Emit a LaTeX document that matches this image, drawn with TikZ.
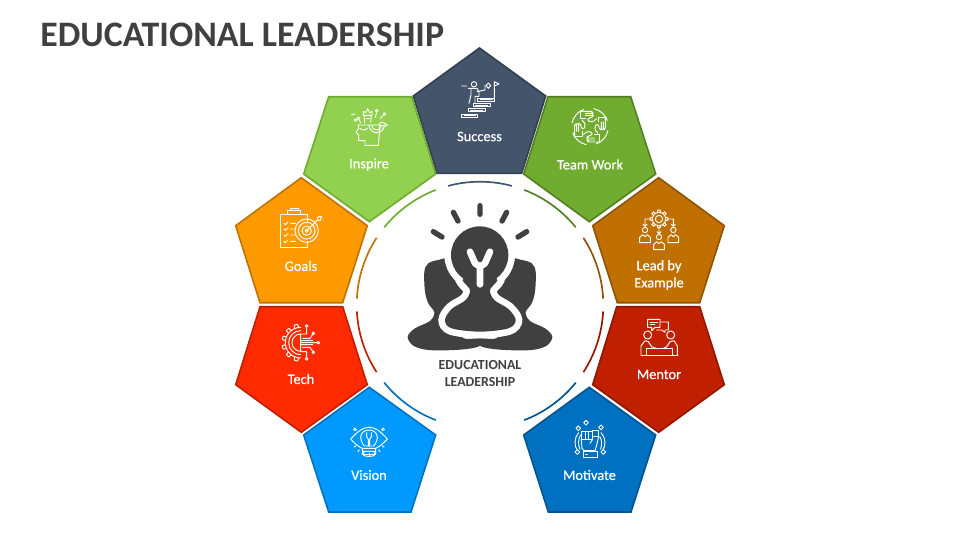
\documentclass[tikz,border=0pt]{standalone}
\usepackage{fontspec}
\setmainfont{Carlito}
\newfontfamily\lblfont[FakeBold=0.6]{Carlito}
\definecolor{inkdark}{HTML}{404040}
\definecolor{cSuccess}{HTML}{44546A}\definecolor{bSuccess}{HTML}{333F50}
\definecolor{cInspire}{HTML}{92D050}\definecolor{bInspire}{HTML}{6FAC2F}
\definecolor{cGoals}{HTML}{FF9900}\definecolor{bGoals}{HTML}{BF7300}
\definecolor{cTech}{HTML}{FF2A00}\definecolor{bTech}{HTML}{BF2000}
\definecolor{cVision}{HTML}{0099FF}\definecolor{bVision}{HTML}{0072BF}
\definecolor{cMotivate}{HTML}{0070C0}\definecolor{bMotivate}{HTML}{005490}
\definecolor{cMentor}{HTML}{C02000}\definecolor{bMentor}{HTML}{901800}
\definecolor{cLead}{HTML}{BF7000}\definecolor{bLead}{HTML}{8F5400}
\definecolor{cTeam}{HTML}{6FAC2F}\definecolor{bTeam}{HTML}{537F23}
\tikzset{
  pent/.style n args={2}{fill=#1,draw=#2,line width=1.2pt,line join=miter},
  ringarc/.style={line width=1.25pt,line cap=butt},
  lbl/.style={text=white,font=\lblfont\fontsize{10.8}{12.9}\selectfont,align=center,inner sep=0pt},
  hublbl/.style={text=inkdark,font=\fontsize{10.4}{12.9}\selectfont\bfseries,align=center,inner sep=0pt},
  iconline/.style={draw=white,line width=.7pt,line cap=round,line join=round,fill=none},
  zoomunits/.style={x=.25pt,y=-.25pt},
  ray/.style={draw=inkdark,line width=4pt,line cap=round},
}
\begin{document}
\begin{tikzpicture}[x=.75pt,y=-.75pt]
\useasboundingbox (0,0) rectangle (960,540);
\node[anchor=west,inner sep=0pt,text=inkdark,font=\fontsize{26.9}{30}\selectfont\bfseries] (title) at (40,34.5) {EDUCATIONAL LEADERSHIP};
% pentagons
\draw[pent={cSuccess}{bSuccess}] (479.5,48)--(545.7,96)--(521.7,173.3)--(437,173.3)--(413.3,96)--cycle;
\draw[pent={cInspire}{bInspire}] (328.7,96.7)--(411.7,96.7)--(435.7,174)--(369.3,221.7)--(303.7,174)--cycle;
\draw[pent={cTeam}{bTeam}] (548,96.7)--(630.7,96.7)--(655.7,174)--(589.3,221.7)--(523.7,174)--cycle;
\draw[pent={cGoals}{bGoals}] (301.3,177.7)--(367.3,225.7)--(342.7,302.7)--(260,302.7)--(235.7,225.7)--cycle;
\draw[pent={cLead}{bLead}] (658.7,177.7)--(724.3,225.7)--(699.7,302.7)--(617.3,302.7)--(592.7,225.7)--cycle;
\draw[pent={cTech}{bTech}] (260,306.7)--(342.7,306.7)--(367.3,384.7)--(301.3,432.3)--(235.7,384.7)--cycle;
\draw[pent={cMentor}{bMentor}] (616.7,306.7)--(699.7,306.7)--(724.3,384.7)--(658.7,432.3)--(592.7,384.7)--cycle;
\draw[pent={cVision}{bVision}] (369.3,387.3)--(435.7,435)--(411,512)--(328.7,512)--(303.7,435)--cycle;
\draw[pent={cMotivate}{bMotivate}] (589.3,387.3)--(655.7,435)--(631,512)--(548.3,512)--(523.7,435)--cycle;
% ring arcs
\begin{scope}[shift={(480,305)},y=.75pt,ringarc]
\foreach \mid/\col in {90/cSuccess,126/bInspire,162/bGoals,198/bTech,234/bVision,306/bMotivate,342/bMentor,18/bLead,54/bTeam}{
  \draw[\col] ({\mid-15}:123.3) arc[start angle=\mid-15,end angle=\mid+15,radius=123.3];
}
\end{scope}
% labels
\node[lbl] (success) at (479.5,136.5) {Success};
\node[lbl] (inspire) at (369,164.5) {Inspire};
\node[lbl] (team) at (590,164.5) {Team Work};
\node[lbl] (goals) at (301,266) {Goals};
\node[lbl] (lead) at (659,275) {Lead by\\Example};
\node[lbl] (tech) at (301,379) {Tech};
\node[lbl] (mentor) at (659,374.5) {Mentor};
\node[lbl] (vision) at (369,475) {Vision};
\node[lbl] (motivate) at (589.5,475) {Motivate};
\node[hublbl] (hub) at (480,373.3) {EDUCATIONAL\\LEADERSHIP};
% central figure
\begin{scope}[shift={(395,195)},zoomunits]
\foreach \flip/\sx in {0/1,510/-1}{
\begin{scope}[shift={(\flip,0)},xscale=\sx]
\fill[inkdark] plot[smooth cycle,tension=.55] coordinates {(38,425)(60,400)(105,378)(118,352)(100,325)(90,290)(88,230)(100,205)(130,195)(165,195)(200,270)(205,340)(200,425)(258,430)(264,445)(240,458)(180,465)(100,465)(55,452)};
\end{scope}}
\path[draw=white,line width=10pt] (254,180) circle[radius=86];
\path[draw=white,line width=10pt] plot[smooth cycle,tension=.55] coordinates {(205,250)(225,285)(212,315)(170,342)(150,375)(170,400)(255,410)(340,400)(362,375)(340,342)(298,315)(285,285)(305,250)};
\fill[inkdark] (254,180) circle[radius=86];
\fill[inkdark] plot[smooth cycle,tension=.55] coordinates {(205,250)(225,285)(212,315)(170,342)(150,375)(170,400)(255,410)(340,400)(362,375)(340,342)(298,315)(285,285)(305,250)};
\draw[white,line width=5pt,line cap=round,line join=round] (225,170)--(240,205)--(255,215)--(270,205)--(285,170) (255,215)--(255,268);
\draw[ray] (255,32)--(255,58) (175,52)--(189,78) (335,52)--(321,78) (115,110)--(141,126) (395,110)--(369,126);
\end{scope}
% icon: success
\begin{scope}[shift={(455,75)},zoomunits,iconline]
\draw (57,28) circle[radius=8];
\draw (20,33)--(35,33) (40,40)--(66,40)--(72,50)--(72,64)--(60,64)--(60,85) (48,40)--(48,60)--(42,85) (66,50)--(90,45)--(90,30);
\draw (68,70) rectangle (118,80) (55,85) rectangle (105,95) (40,100) rectangle (90,110) (20,117) rectangle (68,128);
\draw (75,74)--(112,74) (62,90)--(98,90) (47,105)--(84,105) (27,122)--(62,122);
\draw (118,70)--(118,20)--(132,27)--(118,33);
\draw (100,24)--(107,32)--(100,40)--(93,32)--cycle;
\end{scope}
% icon: inspire (zoom 1 offset)
\begin{scope}[shift={(230,40)},zoomunits,iconline]
\draw (384,255)--(450,255)--(445,316)--(405,316)--(405,302)--(386,302)--(386,284)--(378,278)--(386,264)--cycle;
\draw (390,265) .. controls (397,272) and (405,272) .. (412,265);
\draw (425,255) arc[start angle=180,end angle=0,radius=15] (417,255) arc[start angle=180,end angle=0,radius=23];
\draw (404,248)--(402,226)--(424,226)--(422,246) (400,226)--(400,214)--(407,218)--(413,206)--(419,218)--(426,214)--(426,226) (408,236)--(418,236);
\draw (448,256) .. controls (448,246) and (458,244) .. (464,250) .. controls (472,250) and (474,258) .. (468,258)--cycle;
\draw (385,235) circle[radius=4.5] (376,240) circle[radius=3.5] (440,212) circle[radius=4] (463,222) circle[radius=4];
\draw (365,224)--(375,222) (440,216)--(436,232) (460,226)--(450,236) (387,240)--(392,248);
\end{scope}
% icon: team
\begin{scope}[shift={(480,40)},zoomunits,iconline]
\begin{scope}[shift={(330,260)}]
\foreach \a in {0,90,180,270}{
\begin{scope}[rotate=\a]
\draw[rounded corners=1pt] (-28,-46)--(8,-46)--(8,-40)--(-14,-40) (8,-40)--(10,-34)--(-14,-34) (10,-34)--(6,-27)--(-4,-27)--(-8,-18)--(8,-14)--(20,-24);
\draw (-28,-48)--(-28,-24)--(-14,-24);
\draw (-78:55) arc[start angle=-78,end angle=-20,radius=55];
\end{scope}}
\end{scope}
\end{scope}
% icon: goals
\begin{scope}[shift={(230,40)},zoomunits,iconline]
\draw (205,622)--(152,622)--(152,522)--(233,522)--(233,545) (233,605)--(233,622)--(205,622);
\draw (172,522)--(172,512)--(212,512)--(212,522)--cycle (180,512)--(180,506)--(205,506)--(205,512);
\draw (230,572) circle[radius=35] (230,572) circle[radius=25] (230,572) circle[radius=14] (230,572) circle[radius=5];
\draw (230,572)--(262,540) (262,540)--(265,530)--(275,530)--(270,542)--cycle;
\foreach \y in {550,567,585,604}{\draw (162,\y)--(166,\y+4)--(174,\y-4) (182,\y)--(197,\y);}
\end{scope}
% icon: lead
\begin{scope}[shift={(635,205)},zoomunits,iconline]
\draw (72,42) circle[radius=11] (72,42) circle[radius=20];
\foreach \a in {0,45,...,315}{\draw[shift={(72,42)}] ({\a-12}:20)--({\a-8}:27)--({\a+8}:27)--({\a+12}:20);}
\draw (46,42)--(30,42)--(30,64) (24,58)--(30,64)--(36,58) (98,42)--(115,42)--(115,64) (109,58)--(115,64)--(121,58) (72,66)--(72,86) (66,80)--(72,86)--(78,80);
\foreach \x/\y in {30/75,115/75,72/96}{
\draw (\x,\y) circle[radius=8];
\draw (\x-16,\y+38)--(\x-16,\y+22)--(\x-7,\y+14)--(\x,\y+20)--(\x+7,\y+14)--(\x+16,\y+22)--(\x+16,\y+38)--cycle;
}
\end{scope}
% icon: tech (zoom 3 offset)
\begin{scope}[shift={(230,300)},zoomunits,iconline]
\begin{scope}[shift={(212,128)}]
\draw (90:46) arc[start angle=90,end angle=270,radius=46];
\draw (90:36) arc[start angle=90,end angle=270,radius=36];
\draw (90:26) arc[start angle=90,end angle=270,radius=26];
\foreach \a in {105,135,165,195,225,255}{\draw ({\a-8}:46)--({\a-5}:56)--({\a+5}:56)--({\a+8}:46);}
\end{scope}
\draw (212,102)--(212,155) (218,115)--(240,115)--(250,100) (212,122)--(248,122) (212,128)--(262,128) (212,134)--(248,134) (218,142)--(240,142)--(250,157) (214,102)--(230,102)--(230,82) (214,155)--(230,155)--(230,174);
\draw (230,78) circle[radius=4] (250,100) circle[radius=4] (265,128) circle[radius=4] (250,157) circle[radius=4] (230,177) circle[radius=4];
\end{scope}
% icon: mentor (zoom 4 offset)
\begin{scope}[shift={(480,300)},zoomunits,iconline]
\draw (503,58)--(540,58)--(540,82)--(525,82)--(515,92)--(515,82)--(503,82)--cycle;
\draw (541,66)--(565,66)--(565,90)--(555,90)--(555,97)--(545,90)--(530,90);
\draw (510,66)--(533,66) (510,74)--(525,74);
\draw (503,105) circle[radius=12] (572,105) circle[radius=12];
\draw (483,165)--(483,138)--(495,122)--(505,125)--(515,140)--(530,146) (592,165)--(592,138)--(582,122)--(570,125)--(560,140)--(548,146);
\draw (483,165)--(594,165) (500,165)--(500,146)--(576,146)--(576,165);
\end{scope}
% icon: vision (zoom 3 offset)
\begin{scope}[shift={(230,300)},zoomunits,iconline]
\draw (362,417) .. controls (385,392) and (400,382) .. (417,382) .. controls (435,382) and (450,392) .. (472,417) .. controls (455,435) and (445,442) .. (437,445) (397,445) .. controls (390,442) and (378,435) .. (362,417);
\draw (403,438) .. controls (395,428) and (392,420) .. (392,412) .. controls (392,398) and (404,390) .. (417,390) .. controls (430,390) and (442,398) .. (442,412) .. controls (442,420) and (439,428) .. (431,438) --cycle;
\draw (397,445)--(437,445) (397,454)--(437,454) (397,445)--(397,462) (437,445)--(437,462) (397,462) .. controls (400,472) and (434,472) .. (437,462);
\draw (397,462)--(437,462);
\draw (410,398)--(410,410)--(415,418)--(415,438) (424,398)--(424,410)--(419,418)--(419,438);
\foreach \a in {30,50,70,90,110,130,150}{\draw[shift={(417,415)}] (\a:45)--(\a:52);}
\foreach \a in {-35,-150,-30,-145}{\draw[shift={(417,415)}] (\a:46)--(\a:54);}
\end{scope}
% icon: motivate (zoom 4 offset)
\begin{scope}[shift={(480,300)},zoomunits,iconline]
\draw (304,394) rectangle (315,418) (315,394) rectangle (326,418) (326,394) rectangle (338,418) (338,392) rectangle (356,410);
\draw (304,418)--(306,445)--(312,452)--(345,452)--(350,435)--(356,410) (338,418)--(330,430);
\draw (310,455) rectangle (352,472) (317,464)--(322,464);
\draw (296,398) .. controls (282,412) and (282,440) .. (292,450) (302,405) .. controls (294,415) and (294,435) .. (300,448);
\draw (363,398) .. controls (378,412) and (378,440) .. (368,450) (359,410) .. controls (366,418) and (366,435) .. (362,448);
\foreach \x/\y in {318/368,295/385,363/382,292/456,370/456}{\draw (\x,\y-7)--(\x+7,\y)--(\x,\y+7)--(\x-7,\y)--cycle;}
\end{scope}
\end{tikzpicture}
\end{document}
